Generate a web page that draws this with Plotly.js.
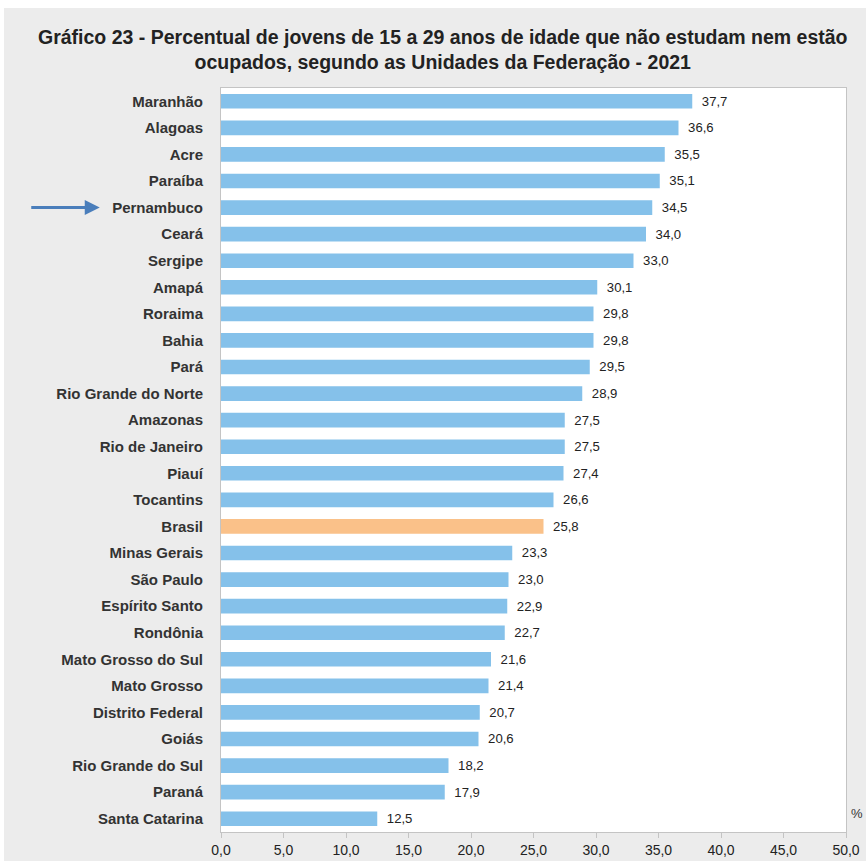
<!DOCTYPE html>
<html>
<head>
<meta charset="utf-8">
<script src="https://cdn.plot.ly/plotly-3.0.1.min.js"></script>
<style>
html,body{margin:0;padding:0;background:#ffffff;}
#chart{position:absolute;left:4px;top:8px;width:862px;height:853px;}
</style>
</head>
<body>
<div id="chart"></div>
<script>
const states = ["Maranhão","Alagoas","Acre","Paraíba","Pernambuco","Ceará","Sergipe","Amapá","Roraima","Bahia","Pará","Rio Grande do Norte","Amazonas","Rio de Janeiro","Piauí","Tocantins","Brasil","Minas Gerais","São Paulo","Espírito Santo","Rondônia","Mato Grosso do Sul","Mato Grosso","Distrito Federal","Goiás","Rio Grande do Sul","Paraná","Santa Catarina"];
const values = [37.7,36.6,35.5,35.1,34.5,34.0,33.0,30.1,29.8,29.8,29.5,28.9,27.5,27.5,27.4,26.6,25.8,23.3,23.0,22.9,22.7,21.6,21.4,20.7,20.6,18.2,17.9,12.5];
const tickVals = [0,5,10,15,20,25,30,35,40,45,50];
const highlight = "Brasil";
const arrowTarget = "Pernambuco";

const colors = states.map(s => s === highlight ? "#fac189" : "#85c1ea");

const trace = {
  type: "bar",
  orientation: "h",
  y: states,
  x: values,
  marker: {color: colors},
  width: 0.55,
  text: values.map(v => "\u2002" + v.toFixed(1).replace(".", ",")),
  textposition: "outside",
  cliponaxis: false,
  textfont: {family: "Liberation Sans, Arial, sans-serif", size: 13.5, color: "#222222"},
  hoverinfo: "none"
};

const layout = {
  width: 862,
  height: 853,
  paper_bgcolor: "#ececec",
  plot_bgcolor: "#ffffff",
  separators: ",.",
  margin: {l: 217, r: 20, t: 80, b: 29},
  showlegend: false,
  title: {
    text: "<b>Gráfico 23 - Percentual de jovens de 15 a 29 anos de idade que não estudam nem estão<br>ocupados, segundo as Unidades da Federação - 2021</b>",
    font: {family: "Liberation Sans, Arial, sans-serif", size: 19.5, color: "#222222"},
    x: 0.509, xanchor: "center",
    y: 0.958, yanchor: "middle", yref: "container"
  },
  xaxis: {
    range: [0, 50],
    tickvals: tickVals,
    tickformat: ".1f",
    showgrid: false,
    zeroline: false,
    showline: true,
    linecolor: "#c4c4c4",
    linewidth: 1,
    mirror: true,
    ticks: "outside",
    ticklen: 5,
    tickcolor: "#c4c4c4",
    tickfont: {family: "Liberation Sans, Arial, sans-serif", size: 14, color: "#222222"},
    fixedrange: true
  },
  yaxis: {
    type: "category",
    categoryorder: "array",
    categoryarray: states,
    autorange: "reversed",
    showgrid: false,
    zeroline: false,
    showline: true,
    linecolor: "#c4c4c4",
    mirror: true,
    ticks: "",
    ticklabelstandoff: 14,
    tickfont: {family: "Liberation Sans, Arial, sans-serif", size: 15, color: "#333333", weight: "bold"},
    fixedrange: true
  },
  annotations: [
    {
      xref: "paper", yref: "y",
      x: -0.194, y: arrowTarget,
      ax: -70, ay: 0,
      text: "",
      showarrow: true,
      arrowhead: 2, arrowsize: 1, arrowwidth: 3,
      arrowcolor: "#4a7ebb"
    },
    {
      xref: "paper", yref: "paper",
      x: 1.0176, y: 0.0255,
      text: "%",
      showarrow: false,
      xanchor: "center", yanchor: "middle",
      font: {family: "Liberation Sans, Arial, sans-serif", size: 13, color: "#333333"}
    }
  ]
};

Plotly.newPlot("chart", [trace], layout, {displayModeBar: false, staticPlot: true});
</script>
</body>
</html>
